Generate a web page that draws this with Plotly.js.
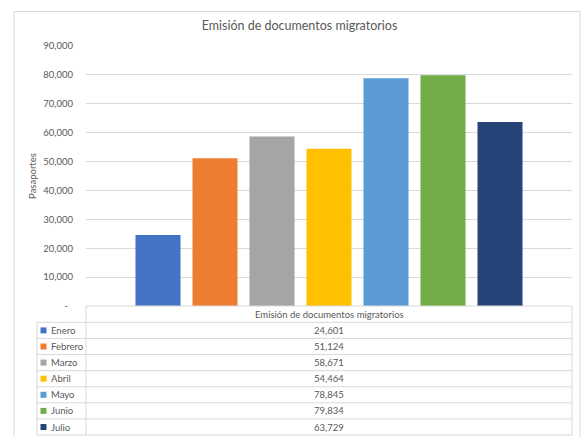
<!DOCTYPE html>
<html>
<head>
<meta charset="utf-8">
<script src="https://cdn.plot.ly/plotly-3.0.1.min.js"></script>
<style>
html,body{margin:0;padding:0;background:#fff;}
#chart{width:584px;height:437px;}
</style>
</head>
<body>
<div id="chart"></div>
<script>
const chartTitle = "Emisión de documentos migratorios";
const category = "Emisión de documentos migratorios";
const months = ["Enero", "Febrero", "Marzo", "Abril", "Mayo", "Junio", "Julio"];
const values = [24601, 51124, 58671, 54464, 78845, 79834, 63729];
const colors = ["#4472C4", "#ED7D31", "#A5A5A5", "#FFC000", "#5B9BD5", "#70AD47", "#264478"];
const tickVals = [0, 10000, 20000, 30000, 40000, 50000, 60000, 70000, 80000, 90000];
const tickText = ["-\u00a0\u00a0", "10,000", "20,000", "30,000", "40,000", "50,000", "60,000", "70,000", "80,000", "90,000"];
const yTitle = "Pasaportes";

const FONT = "Lato, 'Liberation Sans', sans-serif";
const GRAY = "#595959";
const LINE = "#D9D9D9";

// plot area in pixels
const W = 584, H = 437;
const L = 86, R = 572, T = 45.5, B = 306.3;
const xp = px => (px - L) / (R - L);
const yp = py => (B - py) / (B - T);

const traces = months.map((m, i) => ({
  type: "bar",
  name: m,
  x: [category],
  y: [values[i]],
  marker: {color: colors[i]},
  hoverinfo: "name+y",
  showlegend: false
}));

const shapes = [];
const annotations = [];
// outer chart border
shapes.push({type: "rect", xref: "paper", yref: "paper", x0: xp(14), x1: xp(580), y0: yp(11), y1: yp(460),
  line: {color: LINE, width: 1}, fillcolor: "rgba(0,0,0,0)", layer: "below"});

// data table geometry
const tabTop = 306.3, rowH = 16.15, colL = 37;
const headBottom = tabTop + 16.4;
const nRows = months.length;
const tabBottom = headBottom + nRows * rowH;
// header top
shapes.push({type: "line", xref: "paper", yref: "paper", x0: xp(L), x1: xp(R), y0: yp(tabTop), y1: yp(tabTop), line: {color: LINE, width: 1}});
// horizontal lines
for (let r = 0; r <= nRows; r++) {
  const y = headBottom + r * rowH;
  shapes.push({type: "line", xref: "paper", yref: "paper", x0: xp(colL), x1: xp(R), y0: yp(y), y1: yp(y), line: {color: LINE, width: 1}});
}
// vertical lines
shapes.push({type: "line", xref: "paper", yref: "paper", x0: xp(colL), x1: xp(colL), y0: yp(headBottom), y1: yp(tabBottom), line: {color: LINE, width: 1}});
shapes.push({type: "line", xref: "paper", yref: "paper", x0: xp(L), x1: xp(L), y0: yp(tabTop), y1: yp(tabBottom), line: {color: LINE, width: 1}});
shapes.push({type: "line", xref: "paper", yref: "paper", x0: xp(R), x1: xp(R), y0: yp(tabTop), y1: yp(tabBottom), line: {color: LINE, width: 1}});

// header text
annotations.push({xref: "paper", yref: "paper", x: xp((L + R) / 2), y: yp((tabTop + headBottom) / 2),
  text: category, showarrow: false, xanchor: "center", yanchor: "middle",
  font: {family: FONT, size: 9.5, color: GRAY}});

months.forEach((m, i) => {
  const cy = headBottom + (i + 0.5) * rowH;
  shapes.push({type: "rect", xref: "paper", yref: "paper", x0: xp(40.5), x1: xp(46.5), y0: yp(cy - 3), y1: yp(cy + 3),
    line: {width: 0}, fillcolor: colors[i]});
  annotations.push({xref: "paper", yref: "paper", x: xp(48.5), y: yp(cy), text: m, showarrow: false,
    xanchor: "left", yanchor: "middle", font: {family: FONT, size: 9.5, color: GRAY}});
  annotations.push({xref: "paper", yref: "paper", x: xp((L + R) / 2), y: yp(cy), text: values[i].toLocaleString("en-US"),
    showarrow: false, xanchor: "center", yanchor: "middle", font: {family: FONT, size: 9.5, color: GRAY}});
});

const layout = {
  width: W, height: H,
  margin: {l: L, r: W - R, t: T, b: H - B, pad: 0},
  paper_bgcolor: "#fff", plot_bgcolor: "#fff",
  font: {family: FONT, color: GRAY, size: 9.5},
  title: {text: chartTitle, x: 299.5 / W, xref: "container", xanchor: "center", y: 1 - 26 / H, yref: "container", yanchor: "middle",
    font: {family: FONT, size: 12.5, color: GRAY}},
  barmode: "group",
  bargap: 0.179,
  bargroupgap: 0.21,
  xaxis: {showticklabels: false, showgrid: false, zeroline: false, showline: false, ticks: "", fixedrange: true},
  yaxis: {range: [0, 90000], tickvals: tickVals, ticktext: tickText, showgrid: true, gridcolor: LINE, gridwidth: 1,
    zeroline: false, showline: false, ticks: "", ticklabelstandoff: 12,
    tickfont: {family: FONT, size: 9.5, color: GRAY},
    title: {text: yTitle, standoff: 4, font: {family: FONT, size: 9.5, color: GRAY}}, automargin: false, fixedrange: true},
  shapes: shapes,
  annotations: annotations
};

Plotly.newPlot("chart", traces, layout, {displayModeBar: false, staticPlot: true});
</script>
</body>
</html>
